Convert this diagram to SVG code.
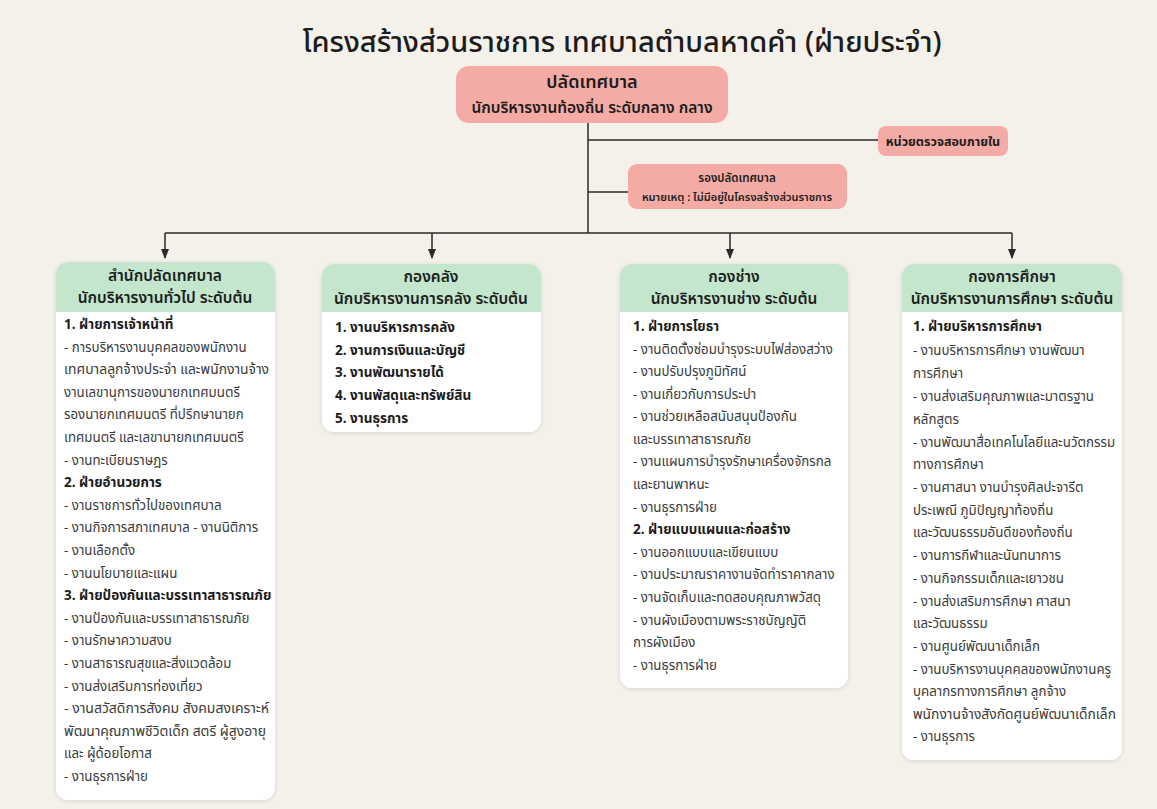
<svg xmlns="http://www.w3.org/2000/svg" width="1157" height="809" viewBox="0 0 1157 809">
<defs>
<style>
text{font-family:"Noto Sans Thai","Noto Sans","DejaVu Sans",sans-serif;fill:#1c1c1c}
.title{font-size:29px;font-weight:500}
.pink{fill:#f4aba5}
.green{fill:#c4e6cd}
.card{fill:#ffffff;filter:url(#sh)}
.hd{font-size:15.5px;font-weight:600;text-anchor:middle}
.b{font-size:13.5px;font-weight:700}
.t{font-size:13.3px;fill:#3a3a3a}
.conn{stroke:#2a2a2a;stroke-width:1.5;fill:none}
</style>
<filter id="sh" x="-10%" y="-10%" width="120%" height="120%">
<feDropShadow dx="0" dy="1" stdDeviation="2" flood-color="#000" flood-opacity="0.12"/>
</filter>
<marker id="arr" viewBox="0 0 10 10" refX="9" refY="5" markerWidth="7" markerHeight="7" orient="auto">
<path d="M0,1 L10,5 L0,9 z" fill="#2a2a2a"/>
</marker>
</defs>
<rect width="1157" height="809" fill="#f4f0ea"/>
<text class="title" x="622" y="52" text-anchor="middle">โครงสร้างส่วนราชการ เทศบาลตำบลหาดคำ (ฝ่ายประจำ)</text>

<g id="connectors">
<path class="conn" d="M588,122 V233"/>
<path class="conn" d="M588,140 H878"/>
<path class="conn" d="M588,192 H628"/>
<path class="conn" d="M165,233 H1012"/>
<path class="conn" d="M165,233 V258" marker-end="url(#arr)"/>
<path class="conn" d="M432,233 V258" marker-end="url(#arr)"/>
<path class="conn" d="M730,233 V258" marker-end="url(#arr)"/>
<path class="conn" d="M1012,233 V258" marker-end="url(#arr)"/>
</g>

<g id="chief">
<rect class="pink" x="456" y="66" width="272" height="57" rx="13"/>
<text x="592" y="88" text-anchor="middle" style="font-size:18px;font-weight:600">ปลัดเทศบาล</text>
<text x="592" y="113" text-anchor="middle" style="font-size:15.5px;font-weight:600">นักบริหารงานท้องถิ่น ระดับกลาง กลาง</text>
</g>

<g id="audit">
<rect class="pink" x="878" y="126" width="130" height="30" rx="8"/>
<text x="943" y="146" text-anchor="middle" style="font-size:12.5px;font-weight:700">หน่วยตรวจสอบภายใน</text>
</g>

<g id="deputy">
<rect class="pink" x="628" y="164" width="219" height="45" rx="9"/>
<text x="737" y="182" text-anchor="middle" style="font-size:11.5px;font-weight:600">รองปลัดเทศบาล</text>
<text x="737" y="201" text-anchor="middle" style="font-size:11px;font-weight:600">หมายเหตุ : ไม่มีอยู่ในโครงสร้างส่วนราชการ</text>
</g>

<g id="office">
<rect class="card" x="56" y="262" width="219" height="538" rx="12"/>
<path class="green" d="M56,312 V274 a12,12 0 0 1 12,-12 H263 a12,12 0 0 1 12,12 V312 z"/>
<text class="hd" x="165" y="281">สำนักปลัดเทศบาล</text>
<text class="hd" x="165" y="303">นักบริหารงานทั่วไป ระดับต้น</text>
<text x="64" y="329" class="b">1. ฝ่ายการเจ้าหน้าที่</text>
<text x="64" y="352" class="t">- การบริหารงานบุคคลของพนักงาน</text>
<text x="64" y="374" class="t" textLength="205" lengthAdjust="spacingAndGlyphs">เทศบาลลูกจ้างประจำ และพนักงานจ้าง</text>
<text x="64" y="397" class="t">งานเลขานุการของนายกเทศมนตรี</text>
<text x="64" y="419" class="t">รองนายกเทศมนตรี ที่ปรึกษานายก</text>
<text x="64" y="442" class="t">เทศมนตรี และเลขานายกเทศมนตรี</text>
<text x="64" y="465" class="t">- งานทะเบียนราษฎร</text>
<text x="64" y="487" class="b">2. ฝ่ายอำนวยการ</text>
<text x="64" y="510" class="t">- งานราชการทั่วไปของเทศบาล</text>
<text x="64" y="532" class="t">- งานกิจการสภาเทศบาล - งานนิติการ</text>
<text x="64" y="555" class="t">- งานเลือกตั้ง</text>
<text x="64" y="578" class="t">- งานนโยบายและแผน</text>
<text x="64" y="600" class="b">3. ฝ่ายป้องกันและบรรเทาสาธารณภัย</text>
<text x="64" y="623" class="t">- งานป้องกันและบรรเทาสาธารณภัย</text>
<text x="64" y="645" class="t">- งานรักษาความสงบ</text>
<text x="64" y="668" class="t">- งานสาธารณสุขและสิ่งแวดล้อม</text>
<text x="64" y="691" class="t">- งานส่งเสริมการท่องเที่ยว</text>
<text x="64" y="713" class="t" textLength="205" lengthAdjust="spacingAndGlyphs">- งานสวัสดิการสังคม สังคมสงเคราะห์</text>
<text x="64" y="736" class="t" textLength="202" lengthAdjust="spacingAndGlyphs">พัฒนาคุณภาพชีวิตเด็ก สตรี ผู้สูงอายุ</text>
<text x="64" y="758" class="t">และ ผู้ด้อยโอกาส</text>
<text x="64" y="781" class="t">- งานธุรการฝ่าย</text>
</g>

<g id="finance">
<rect class="card" x="322" y="264" width="219" height="168" rx="12"/>
<path class="green" d="M322,312 V276 a12,12 0 0 1 12,-12 H529 a12,12 0 0 1 12,12 V312 z"/>
<text class="hd" x="431" y="282">กองคลัง</text>
<text class="hd" x="431" y="304">นักบริหารงานการคลัง ระดับต้น</text>
<text x="335" y="332" class="b">1. งานบริหารการคลัง</text>
<text x="335" y="355" class="b">2. งานการเงินและบัญชี</text>
<text x="335" y="377" class="b">3. งานพัฒนารายได้</text>
<text x="335" y="400" class="b">4. งานพัสดุและทรัพย์สิน</text>
<text x="335" y="423" class="b">5. งานธุรการ</text>
</g>

<g id="engineering">
<rect class="card" x="620" y="264" width="228" height="424" rx="12"/>
<path class="green" d="M620,312 V276 a12,12 0 0 1 12,-12 H836 a12,12 0 0 1 12,12 V312 z"/>
<text class="hd" x="734" y="282">กองช่าง</text>
<text class="hd" x="734" y="304">นักบริหารงานช่าง ระดับต้น</text>
<text x="633" y="331" class="b">1. ฝ่ายการโยธา</text>
<text x="633" y="354" class="t">- งานติดตั้งซ่อมบำรุงระบบไฟส่องสว่าง</text>
<text x="633" y="376" class="t">- งานปรับปรุงภูมิทัศน์</text>
<text x="633" y="399" class="t">- งานเกี่ยวกับการประปา</text>
<text x="633" y="421" class="t">- งานช่วยเหลือสนับสนุนป้องกัน</text>
<text x="633" y="444" class="t">และบรรเทาสาธารณภัย</text>
<text x="633" y="466" class="t">- งานแผนการบำรุงรักษาเครื่องจักรกล</text>
<text x="633" y="489" class="t">และยานพาหนะ</text>
<text x="633" y="512" class="t">- งานธุรการฝ่าย</text>
<text x="633" y="534" class="b">2. ฝ่ายแบบแผนและก่อสร้าง</text>
<text x="633" y="557" class="t">- งานออกแบบและเขียนแบบ</text>
<text x="633" y="579" class="t">- งานประมาณราคางานจัดทำราคากลาง</text>
<text x="633" y="602" class="t">- งานจัดเก็บและทดสอบคุณภาพวัสดุ</text>
<text x="633" y="625" class="t">- งานผังเมืองตามพระราชบัญญัติ</text>
<text x="633" y="647" class="t">การผังเมือง</text>
<text x="633" y="670" class="t">- งานธุรการฝ่าย</text>
</g>

<g id="education">
<rect class="card" x="902" y="264" width="220" height="496" rx="12"/>
<path class="green" d="M902,312 V276 a12,12 0 0 1 12,-12 H1110 a12,12 0 0 1 12,12 V312 z"/>
<text class="hd" x="1012" y="282">กองการศึกษา</text>
<text class="hd" x="1012" y="304">นักบริหารงานการศึกษา ระดับต้น</text>
<text x="913" y="331" class="b">1. ฝ่ายบริหารการศึกษา</text>
<text x="913" y="355" class="t">- งานบริหารการศึกษา งานพัฒนา</text>
<text x="913" y="378" class="t">การศึกษา</text>
<text x="913" y="401" class="t">- งานส่งเสริมคุณภาพและมาตรฐาน</text>
<text x="913" y="424" class="t">หลักสูตร</text>
<text x="913" y="447" class="t">- งานพัฒนาสื่อเทคโนโลยีและนวัตกรรม</text>
<text x="913" y="469" class="t">ทางการศึกษา</text>
<text x="913" y="492" class="t">- งานศาสนา งานบำรุงศิลปะจารีต</text>
<text x="913" y="515" class="t">ประเพณี ภูมิปัญญาท้องถิ่น</text>
<text x="913" y="537" class="t">และวัฒนธรรมอันดีของท้องถิ่น</text>
<text x="913" y="560" class="t">- งานการกีฬาและนันทนาการ</text>
<text x="913" y="583" class="t">- งานกิจกรรมเด็กและเยาวชน</text>
<text x="913" y="606" class="t">- งานส่งเสริมการศึกษา ศาสนา</text>
<text x="913" y="628" class="t">และวัฒนธรรม</text>
<text x="913" y="651" class="t">- งานศูนย์พัฒนาเด็กเล็ก</text>
<text x="913" y="674" class="t">- งานบริหารงานบุคคลของพนักงานครู</text>
<text x="913" y="696" class="t">บุคลากรทางการศึกษา ลูกจ้าง</text>
<text x="913" y="719" class="t" textLength="203" lengthAdjust="spacingAndGlyphs">พนักงานจ้างสังกัดศูนย์พัฒนาเด็กเล็ก</text>
<text x="913" y="741" class="t">- งานธุรการ</text>
</g>
</svg>
